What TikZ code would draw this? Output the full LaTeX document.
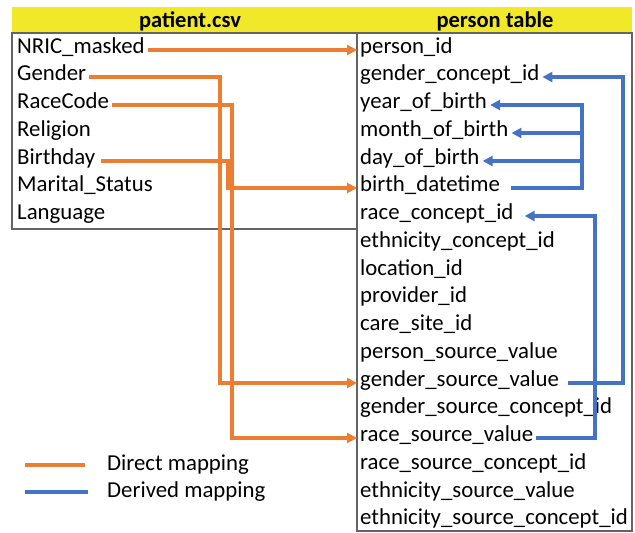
\documentclass[tikz,border=0pt]{standalone}
\usepackage{fontspec}
\setmainfont{Carlito}
\usetikzlibrary{arrows.meta}
\definecolor{hdryellow}{RGB}{240,232,40}
\definecolor{maporange}{RGB}{237,125,49}
\definecolor{mapblue}{RGB}{68,114,196}
\definecolor{boxgray}{RGB}{100,100,100}
\tikzset{
  field/.style={anchor=west, inner xsep=3pt, inner ysep=0pt, text height=0.8em, text depth=0.18em},
  title/.style={inner sep=0pt, font=\fontsize{22.5}{27}\selectfont\bfseries},
  direct/.style={draw=maporange, line width=3.3pt, -{Triangle[length=10pt,width=10pt]}},
  derived/.style={draw=mapblue, line width=3.3pt, -{Triangle[length=10pt,width=10pt]}},
  keyline/.style={line width=3.3pt},
}
\begin{document}
\begin{tikzpicture}[x=1pt,y=-1pt,font=\fontsize{22.8}{27}\selectfont]
\useasboundingbox (0,0) rectangle (635,533);
% headers and boxes
\fill [hdryellow] (12,7) rectangle (632,33);
\draw [boxgray, line width=1.4pt] (12,33) rectangle (357,229);
\draw [boxgray, line width=1.4pt] (357,33) rectangle (632,531);
\node [title] (src) at (190,21) {patient.csv};
\node [title] (dst) at (495,21) {person table};
% patient.csv
\node [field] (nric) at (14,50) {NRIC\_masked};
\node [field] (gender) at (14,77) {Gender};
\node [field] (race) at (14,105) {RaceCode};
\node [field] (religion) at (14,133) {Religion};
\node [field] (bday) at (14,161) {Birthday};
\node [field] (marital) at (14,188) {Marital\_Status};
\node [field] (lang) at (14,216) {Language};
% person table
\node [field] (pid) at (357,50) {person\_id};
\node [field] (gcid) at (357,77) {gender\_concept\_id};
\node [field] (yob) at (357,105) {year\_of\_birth};
\node [field] (mob) at (357,133) {month\_of\_birth};
\node [field] (dob) at (357,161) {day\_of\_birth};
\node [field] (bdt) at (357,188) {birth\_datetime};
\node [field] (rcid) at (357,216) {race\_concept\_id};
\node [field] (ecid) at (357,244) {ethnicity\_concept\_id};
\node [field] (loc) at (357,272) {location\_id};
\node [field] (prov) at (357,299) {provider\_id};
\node [field] (care) at (357,327) {care\_site\_id};
\node [field] (psv) at (357,355) {person\_source\_value};
\node [field] (gsv) at (357,383) {gender\_source\_value};
\node [field] (gscid) at (357,410) {gender\_source\_concept\_id};
\node [field] (rsv) at (357,438) {race\_source\_value};
\node [field] (rscid) at (357,466) {race\_source\_concept\_id};
\node [field] (esv) at (357,494) {ethnicity\_source\_value};
\node [field] (escid) at (357,521) {ethnicity\_source\_concept\_id};
% bend points
\coordinate (gx) at (220,0);
\coordinate (bx) at (228,0);
\coordinate (rx) at (232,0);
\coordinate (gbx) at (623,0);
\coordinate (bbx) at (582,0);
\coordinate (rbx) at (595,0);
% direct mapping
\draw [direct] (nric.east) -- (pid.west);
\draw [direct] (gender.east) -| (gx |- gsv.west) -- (gsv.west);
\draw [direct] (race.east) -| (rx |- rsv.west) -- (rsv.west);
\draw [direct, shorten <=3pt] (bday.east) -| (bx |- bdt.west) -- (bdt.west);
% derived mapping
\draw [derived, shorten <=6pt] (gsv.east) -| (gbx |- gcid.east) -- (gcid.east);
\draw [derived, shorten <=8pt] (bdt.east) -| (bbx |- yob.east) -- (yob.east);
\draw [derived] (bbx |- mob.east) -- (mob.east);
\draw [derived] (bbx |- dob.east) -- (dob.east);
\draw [derived, shorten >=8pt] (rsv.east) -| (rbx |- rcid.east) -- (rcid.east);
% legend
\node [field] (dkey) at (104,467) {Direct mapping};
\node [field] (vkey) at (104,494) {Derived mapping};
\coordinate (dl) at (25,465);
\coordinate (vl) at (25,492);
\draw [keyline, maporange] (dl) -- (dl -| 85,0);
\draw [keyline, mapblue] (vl) -- (vl -| 88,0);
\end{tikzpicture}
\end{document}
